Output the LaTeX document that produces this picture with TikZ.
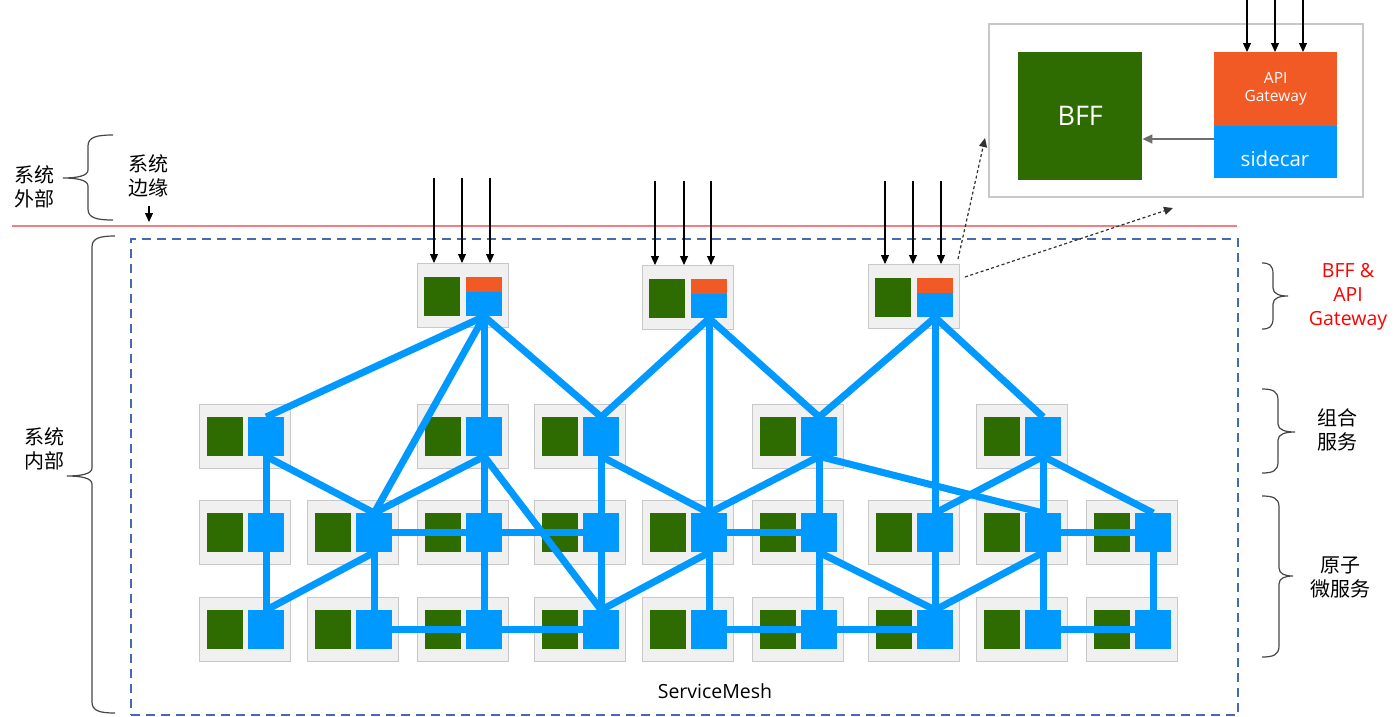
\documentclass[tikz,border=0pt]{standalone}
\usepackage{fontspec}
\setmainfont{Open Sans}
\newfontfamily\cjk{Noto Sans CJK SC}
\usetikzlibrary{arrows.meta}
\definecolor{boxfill}{RGB}{240,240,240}
\definecolor{boxline}{RGB}{200,200,200}
\definecolor{svgreen}{RGB}{46,107,0}
\definecolor{svblue}{RGB}{0,153,255}
\definecolor{svorange}{RGB}{241,90,36}
\definecolor{redline}{RGB}{240,128,128}
\definecolor{dashblue}{RGB}{68,106,180}
\definecolor{bracegray}{RGB}{70,70,70}
\definecolor{dotgray}{RGB}{50,50,50}
\definecolor{arrgray}{RGB}{110,110,110}

\newcommand\svc[3]{%
  \node[svbox] (box#1) at (#2,#3) {};
  \node[grn] (g#1) at ({#2+8},{#3+13}) {};
  \node[blu] (b#1) at ({#2+49},{#3+13}) {};
}
\newcommand\topsvc[3]{%
  \node[svbox] (box#1) at (#2,#3) {};
  \node[grn] (g#1) at ({#2+7},{#3+14}) {};
  \node[orng] (o#1) at ({#2+49},{#3+14}) {};
  \node[blutop] (#1) at ({#2+49},{#3+29}) {};
}
% xe, xv, xt, ytop, ym, ybot
\newcommand\bracepath[6]{%
  \draw[bracestyle] (#1,#4) .. controls ({#2+0.35*(#1-#2)},#4) and (#2,{#4+2}) .. (#2,{#4+11})
    -- (#2,{#5-8}) .. controls (#2,{#5-2}) and ({#3+0.55*(#2-#3)},#5) .. (#3,#5)
    .. controls ({#3+0.55*(#2-#3)},#5) and (#2,{#5+2}) .. (#2,{#5+8})
    -- (#2,{#6-11}) .. controls (#2,{#6-2}) and ({#2+0.35*(#1-#2)},#6) .. (#1,#6);
}

\begin{document}
\begin{tikzpicture}[x=1pt,y=-1pt,
  svbox/.style={draw=boxline, fill=boxfill, line width=1pt, minimum width=91pt, minimum height=64pt, inner sep=0pt, anchor=north west},
  grn/.style={fill=svgreen, minimum width=36pt, minimum height=39pt, inner sep=0pt, anchor=north west},
  blu/.style={fill=svblue, minimum width=36pt, minimum height=39pt, inner sep=0pt, anchor=north west},
  orng/.style={fill=svorange, minimum width=36pt, minimum height=15pt, inner sep=0pt, anchor=north west},
  blutop/.style={fill=svblue, minimum width=36pt, minimum height=24pt, inner sep=0pt, anchor=north west},
  link/.style={draw=svblue, line width=7pt},
  tarrow/.style={draw=black, line width=1.1pt, -{Triangle[length=9pt,width=8pt]}},
  dotarrow/.style={draw=dotgray, line width=1.2pt, dash pattern=on 3pt off 2.5pt, -{Triangle[length=9pt,width=8pt]}},
  grayarrow/.style={draw=arrgray, line width=1.6pt, -{Triangle[length=10pt,width=9pt]}},
  bracestyle/.style={draw=bracegray, line width=1.2pt},
  cjklab/.style={font=\cjk\fontsize{20}{24}\selectfont, align=center, inner sep=0pt},
]
\useasboundingbox (0,0) rectangle (1400,716);

% boundary line and service mesh area
\draw[draw=redline, line width=1.5pt] (12,226) -- (1237,226);
\node[draw=dashblue, line width=1.5pt, dash pattern=on 9pt off 6pt, minimum width=1107pt, minimum height=476pt, anchor=north west, inner sep=0pt] (mesh) at (130,238) {};
\node[font=\fontsize{19.5}{24}\selectfont, inner sep=0pt] (meshlabel) at (715,691) {ServiceMesh};

% services
\svc{21}{199}{404}
\svc{23}{417}{404}
\svc{24}{534}{404}
\svc{26}{752}{404}
\svc{28}{976}{404}
\foreach \c/\x in {1/199,2/307,3/417,4/534,5/642,6/752,7/868,8/976,9/1086} {
  \svc{3\c}{\x}{500}
  \svc{4\c}{\x}{597}
}
\topsvc{t1}{417}{263}
\topsvc{t2}{642}{265}
\topsvc{t3}{868}{264}

% links
\draw[link] (t1.south) -- (b21.north);
\draw[link] (t1.south) -- (b32.north);
\draw[link] (t1.south) -- (b23.north);
\draw[link] (t1.south) -- (b24.north);
\draw[link] (t2.south) -- (b24.north);
\draw[link] (t2.south) -- (b26.north);
\draw[link] (t2.south) -- (b35.north);
\draw[link] (t3.south) -- (b26.north);
\draw[link] (t3.south) -- (b28.north);
\draw[link] (t3.south) -- (b37.north);

\draw[link] (b21.south) -- (b31.north);
\draw[link] (b31.south) -- (b41.north);
\draw[link] (b21.south) -- (b32.north);
\draw[link] (b23.south) -- (b33.north);
\draw[link] (b33.south) -- (b43.north);
\draw[link] (b23.south) -- (b32.north);
\draw[link] (b23.south) -- (b44.north);
\draw[link] (b24.south) -- (b34.north);
\draw[link] (b34.south) -- (b44.north);
\draw[link] (b24.south) -- (b35.north);
\draw[link] (b26.south) -- (b36.north);
\draw[link] (b36.south) -- (b46.north);
\draw[link] (b26.south) -- (b35.north);
\draw[link] (b26.south) -- (b38.north);
\draw[link] (b28.south) -- (b38.north);
\draw[link] (b38.south) -- (b48.north);
\draw[link] (b28.south) -- (b37.north);
\draw[link] (b28.south) -- (b39.north);

\draw[link] (b32.south) -- (b42.north);
\draw[link] (b32.south) -- (b41.north);
\draw[link] (b35.south) -- (b45.north);
\draw[link] (b35.south) -- (b44.north);
\draw[link] (b36.south) -- (b47.north);
\draw[link] (b37.south) -- (b47.north);
\draw[link] (b38.south) -- (b47.north);
\draw[link] (b39.south) -- (b49.north);

\draw[link] (b32.east) -- (b33.west);
\draw[link] (b33.east) -- (b34.west);
\draw[link] (b35.east) -- (b36.west);
\draw[link] (b38.east) -- (b39.west);
\draw[link] (b42.east) -- (b43.west);
\draw[link] (b43.east) -- (b44.west);
\draw[link] (b45.east) -- (b46.west);
\draw[link] (b46.east) -- (b47.west);
\draw[link] (b48.east) -- (b49.west);

% incoming requests
\foreach \x in {434,462,490} {
  \coordinate (in1\x) at (\x,178);
  \draw[tarrow] (in1\x) -- (in1\x |- boxt1.north);
}
\foreach \x in {655,684,711} {
  \coordinate (in2\x) at (\x,181);
  \draw[tarrow] (in2\x) -- (in2\x |- boxt2.north);
}
\foreach \x in {885,913,941} {
  \coordinate (in3\x) at (\x,181);
  \draw[tarrow] (in3\x) -- (in3\x |- boxt3.north);
}

% detail inset
\node[draw=boxline, fill=white, line width=1.5pt, minimum width=374pt, minimum height=173pt, anchor=north west, inner sep=0pt] (inset) at (988,23) {};
\node[fill=svgreen, minimum width=124pt, minimum height=128pt, anchor=north west, inner sep=0pt, text=white, font=\fontsize{27}{32}\selectfont] (bff) at (1018,52) {BFF};
\node[fill=svorange, minimum width=123pt, minimum height=74pt, anchor=north west, inner sep=0pt, text=white, align=center, font=\fontsize{15.5}{18}\selectfont] (apigw) at (1214,52) {API\\Gateway};
\node[fill=svblue, minimum width=123pt, minimum height=52pt, anchor=north west, inner sep=0pt] (sc) at (1214,126) {};
\node[text=white, font=\fontsize{20.5}{24}\selectfont, inner sep=0pt] (sctext) at (1275,159) {sidecar};
\coordinate (scw) at (1214,139);
\draw[grayarrow] (scw) -- (scw -| bff.east);
\foreach \x in {1247,1275,1303} {
  \coordinate (ina\x) at (\x,0);
  \draw[tarrow] (ina\x) -- (ina\x |- apigw.north);
}
\coordinate (d1s) at (958,259);
\coordinate (d1e) at (985,138);
\coordinate (d2s) at (965,277);
\coordinate (d2e) at (1173,208);
\draw[dotarrow] (d1s) -- (d1e);
\draw[dotarrow] (d2s) -- (d2e);

% left labels and braces
\node[cjklab] (outside) at (34,187) {系统\\外部};
\bracepath{113}{88}{63}{135}{178}{220}
\node[cjklab] (edge) at (148,176) {系统\\边缘};
\coordinate (edgea) at (149,206);
\draw[tarrow] (edgea) -- (edgea |- 0,222);
\node[cjklab] (inside) at (44,449) {系统\\内部};
\bracepath{115}{92}{67}{236}{476}{713}

% right labels and braces
\bracepath{1262}{1273}{1288}{263}{296}{329}
\node[font=\fontsize{19.5}{24}\selectfont, text=red, align=center, inner sep=0pt] (gwlabel) at (1348,297) {BFF \&\\API\\Gateway};
\bracepath{1262}{1278}{1295}{389}{432}{473}
\node[cjklab] (comp) at (1337,430) {组合\\服务};
\bracepath{1262}{1279}{1293}{496}{576}{657}
\node[cjklab] (atom) at (1340,577) {原子\\微服务};
\end{tikzpicture}
\end{document}
